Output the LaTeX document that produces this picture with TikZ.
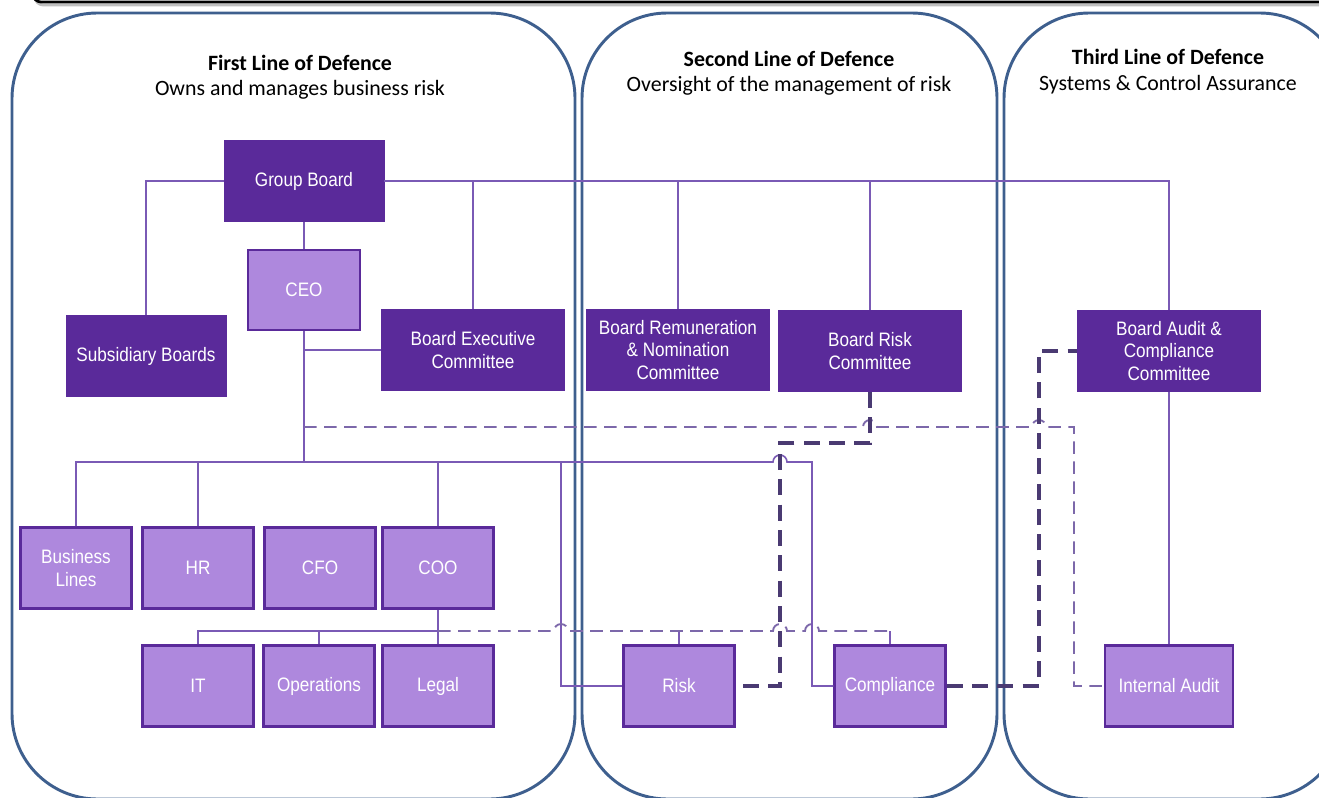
\documentclass[tikz,border=0pt]{standalone}
\usepackage{fontspec}
\setmainfont{Carlito}
\newfontfamily\boxfont[FakeStretch=0.88]{Liberation Sans}
\usetikzlibrary{calc}

\definecolor{panelblue}{HTML}{3E5F8E}
\definecolor{darkpurple}{HTML}{5A2A9A}
\definecolor{lightpurple}{HTML}{AE88DD}
\definecolor{linkpurple}{HTML}{7A5AB5}
\definecolor{dashpurple}{HTML}{7C68AA}
\definecolor{heavydash}{HTML}{4A3A72}

\tikzset{
  panel/.style={draw=panelblue, line width=2.2pt, rounded corners=64pt},
  headbold/.style={anchor=base, font=\fontsize{16.4}{19}\selectfont\bfseries},
  headtext/.style={anchor=base, font=\fontsize{16.4}{19}\selectfont},
  unit/.style={align=center, text=white, inner sep=0pt, minimum height=61pt,
    font=\boxfont\fontsize{14.6}{17}\selectfont},
  darkbox/.style={unit, fill=darkpurple, draw=darkpurple, line width=0.6pt, minimum width=120pt},
  widebox/.style={darkbox, minimum width=137.5pt},
  lightbox/.style={unit, fill=lightpurple, draw=darkpurple, line width=1.9pt, minimum width=83pt},
  link/.style={draw=linkpurple, line width=1.2pt},
  thindash/.style={draw=dashpurple, line width=1.4pt, dash pattern=on 9.5pt off 5.5pt},
  thickdash/.style={draw=heavydash, line width=2.3pt, dash pattern=on 12pt off 7pt}
}

\begin{document}
\begin{tikzpicture}[x=0.75pt,y=0.75pt,yscale=-1,xscale=1]
\useasboundingbox (0,0) rectangle (1319,798);

%Shape: frame edge above
\draw[gray!50, line width=2pt, rounded corners=6pt] (35,-12) -- (35,5) -- (1330,5);
\draw[black, line width=2pt, rounded corners=6pt] (33,-12) -- (33,2) -- (1330,2);

%Shape: Rounded panels
\draw[panel] (12,13) rectangle (575,799);
\draw[panel] (582,13) rectangle (997,799);
\draw[panel] (1004,13) rectangle (1345,799);

% Text Node
\node[headbold] (h1a) at (300,71) {First Line of Defence};
\node[headtext] (h1b) at (300,96) {Owns and manages business risk};
\node[headbold] (h2a) at (789,67) {Second Line of Defence};
\node[headtext] (h2b) at (789,92) {Oversight of the management of risk};
\node[headbold] (h3a) at (1168,65) {Third Line of Defence};
\node[headtext] (h3b) at (1168,91) {Systems \& Control Assurance};

%Shape: boards and committees
\node[darkbox] (gb) at (304,181) {Group Board};
\node[lightbox, minimum width=84pt, minimum height=60pt] (ceo) at (304,290) {CEO};
\node[darkbox] (sub) at (146,356) {Subsidiary Boards};
\node[widebox] (bec) at (473,350) {Board Executive\\Committee};
\node[widebox] (brn) at (678,350) {Board Remuneration\\\& Nomination\\Committee};
\node[widebox] (brc) at (870,351) {Board Risk\\Committee};
\node[widebox] (bac) at (1169,351) {Board Audit \&\\Compliance\\Committee};

%Shape: functions
\node[lightbox] (bl) at (76,568) {Business\\Lines};
\node[lightbox] (hr) at (198,568) {HR};
\node[lightbox] (cfo) at (320,568) {CFO};
\node[lightbox] (coo) at (438,568) {COO};
\node[lightbox] (it) at (198,686) {IT};
\node[lightbox] (ops) at (319,686) {Operations};
\node[lightbox] (legal) at (438,686) {Legal};
\node[lightbox] (risk) at (679,686) {Risk};
\node[lightbox] (comp) at (890,686) {Compliance};
\node[lightbox, minimum width=96pt] (ia) at (1169,686) {Internal Audit};

% routing rows and columns
\coordinate (bus) at (0,462);
\coordinate (subbus) at (0,631);
\coordinate (dline) at (0,427);
\coordinate (kline) at (0,443);
\coordinate (rcol) at (561,0);
\coordinate (dcol) at (780,0);
\coordinate (ccol) at (812,0);
\coordinate (acol) at (1039,0);
\coordinate (icol) at (1074,0);

%Straight Lines: group board
\draw[link] (gb.west) -| (sub.north);
\draw[link] (gb.east) -| (bac.north);
\draw[link] (bec.north |- gb.east) -- (bec.north);
\draw[link] (brn.north |- gb.east) -- (brn.north);
\draw[link] (brc.north |- gb.east) -- (brc.north);
\draw[link] (gb.south) -- (ceo.north);
\draw[link] (ceo.south) -- (ceo.south |- bus);
\draw[link] (ceo.south |- bec.west) -- (bec.west);
\draw[link] (bac.south) -- (ia.north);

%Straight Lines: CEO reports
\draw[link] (bl.north) |- ($(dcol |- bus)+(-7,0)$) arc[start angle=180, end angle=360, radius=5.25pt] -- (ccol |- bus) |- (comp.west);
\draw[link] (hr.north) -- (hr.north |- bus);
\draw[link] (coo.north) -- (coo.north |- bus);
\draw[link] (rcol |- bus) |- (risk.west);

%Straight Lines: COO reports
\draw[link] (coo.south) -- (legal.north);
\draw[link] (it.north) |- (coo.south |- subbus);
\draw[link] (ops.north) -- (ops.north |- subbus);
\draw[link] (risk.north) -- (risk.north |- subbus);
\draw[link] (comp.north) -- (comp.north |- subbus);

%Dashed Lines
\draw[thindash] (coo.south |- subbus) -- ($(rcol |- subbus)+(-7,0)$) arc[start angle=180, end angle=360, radius=5.25pt] -- ($(dcol |- subbus)+(-7,0)$) arc[start angle=180, end angle=360, radius=5.25pt] -- ($(ccol |- subbus)+(-7,0)$) arc[start angle=180, end angle=360, radius=5.25pt] -- (comp.north |- subbus);
\draw[thindash] (ceo.south |- dline) -- ($(brc.south |- dline)+(-7,0)$) arc[start angle=180, end angle=360, radius=5.25pt] -- ($(acol |- dline)+(-7,0)$) arc[start angle=180, end angle=360, radius=5.25pt] -- (icol |- dline) |- (ia.west);
\draw[thickdash] (brc.south) |- (dcol |- kline) |- (risk.east);
\draw[thickdash] (comp.east) -| (acol |- bac.west) -- (bac.west);

\end{tikzpicture}
\end{document}
